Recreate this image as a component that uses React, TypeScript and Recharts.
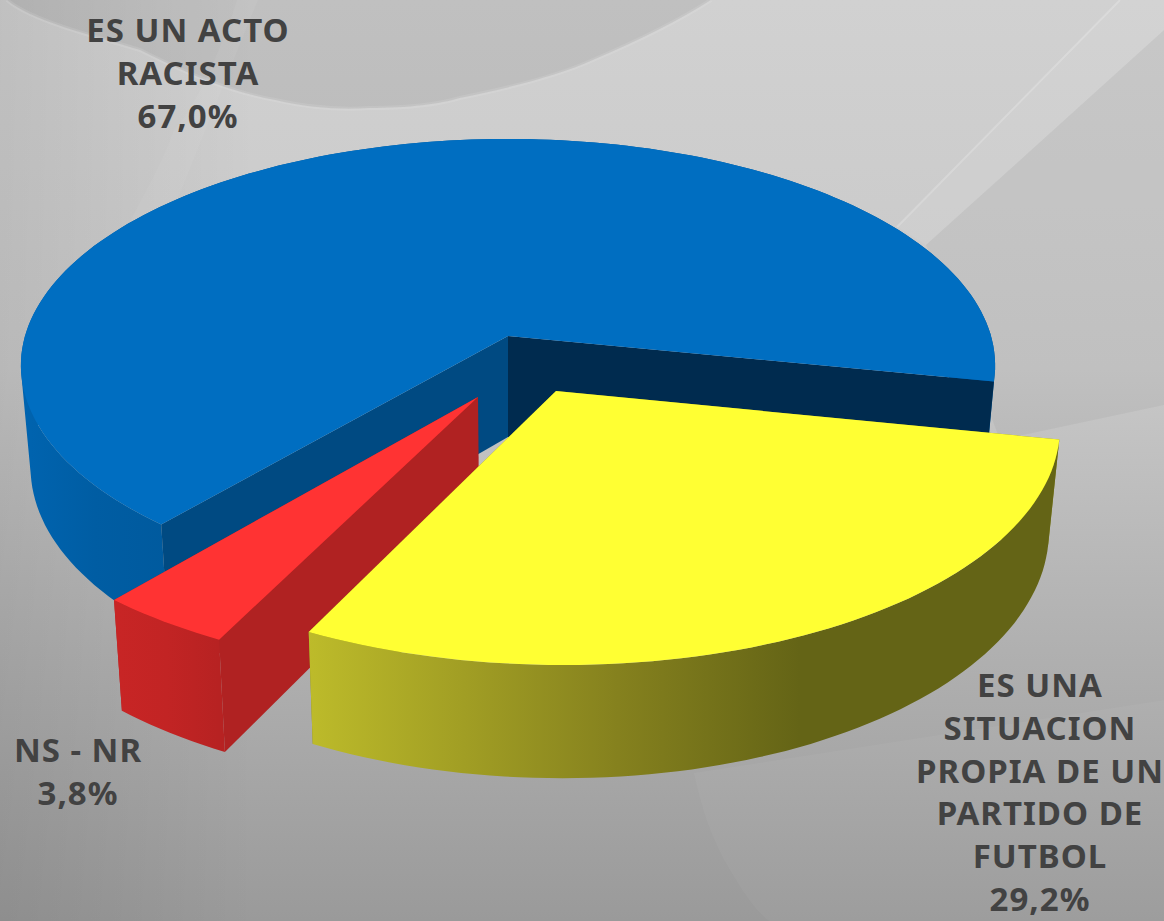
import { Pie, PieChart } from 'recharts'

const CATEGORIES = ['ES UN ACTO RACISTA', 'NS - NR', 'ES UNA SITUACION PROPIA DE UN PARTIDO DE FUTBOL']
const VALUES = [67.0, 3.8, 29.2]
const VALUE_LABELS = ['67,0%', '3,8%', '29,2%']
const LABEL_LINES = [
  ['ES UN ACTO', 'RACISTA'],
  ['NS - NR'],
  ['ES UNA', 'SITUACION', 'PROPIA DE UN', 'PARTIDO DE', 'FUTBOL'],
]

const TOP_COLORS = ['#006ec1', '#ff3333', '#ffff33']
const OUTER_WALL_STOPS = [
  ['#0064b0', '#005da3', '#005a9e'],
  ['#c82525', '#c22424', '#b72222'],
  ['#bdbb2a', '#85811e', '#646416'],
]
const WALL_STOP_OFFSETS = [
  [0, 50, 100],
  [0, 50, 100],
  [0, 63, 100],
]
const CUT_WALL_COLORS = [
  ['#002b4f', '#004a82'],
  ['#b02222', '#b02222'],
  ['#8a8a1e', '#8a8a1e'],
]

// label anchors, centre x and first baseline
const LABEL_X = [188, 78, 1040]
const LABEL_Y = [42, 762, 697]
const LINE_HEIGHT = 42.8

// explode offset of every slice in the plane of the pie
const EXPLODE_U = [0, -0.06, 0.0963]
const EXPLODE_V = [0, -0.2644, -0.2394]

const WIDTH = 1164
const HEIGHT = 921
const TILT = 0.461
const PERSPECTIVE = 0.13
const DEPTH = 101
const BASE_SHRINK = 0.98

const rows = CATEGORIES.map((name, i) => ({ name, value: VALUES[i] }))

type Pt = [number, number]

function toPath(points: Pt[]): string {
  return points.map((p, i) => `${i === 0 ? 'M' : 'L'}${p[0].toFixed(1)},${p[1].toFixed(1)}`).join(' ') + ' Z'
}

// same winding for every quad, otherwise overlapping quads cancel under nonzero fill
function clockwise(points: Pt[]): Pt[] {
  let area = 0
  points.forEach((p, i) => {
    const q = points[(i + 1) % points.length]
    area += p[0] * q[1] - q[0] * p[1]
  })
  return area < 0 ? [...points].reverse() : points
}

function Slice3D(props: any) {
  const { cx, cy, outerRadius, startAngle, endAngle, name } = props
  const index = CATEGORIES.indexOf(name)

  const top = (u: number, v: number): Pt => {
    const w = 1 + PERSPECTIVE * v
    return [cx + (outerRadius * u) / w, cy - (outerRadius * TILT * v) / w]
  }
  const bottom = (u: number, v: number): Pt => {
    const w = 1 + PERSPECTIVE * v
    const p = top(u, v)
    return [cx + (p[0] - cx) * BASE_SHRINK, p[1] + DEPTH / Math.pow(w, 0.65)]
  }

  const ou = EXPLODE_U[index]
  const ov = EXPLODE_V[index]
  const steps = Math.max(8, Math.ceil((endAngle - startAngle) / 1.5))
  const arc: [number, number][] = []
  for (let i = 0; i <= steps; i++) {
    const a = ((startAngle + ((endAngle - startAngle) * i) / steps) * Math.PI) / 180
    arc.push([ou + Math.cos(a), ov + Math.sin(a)])
  }
  const first = arc[0]
  const last = arc[arc.length - 1]

  const topFace = [top(ou, ov), ...arc.map(([u, v]) => top(u, v))]
  // swept quads, so the silhouette keeps the tangent edge between top and base
  const outerWall = arc
    .slice(1)
    .map(([u, v], i) => {
      const [pu, pv] = arc[i]
      return toPath(clockwise([top(pu, pv), top(u, v), bottom(u, v), bottom(pu, pv)]))
    })
    .join(' ')
  const cutStart = [top(ou, ov), top(first[0], first[1]), bottom(first[0], first[1]), bottom(ou, ov)]
  const cutEnd = [top(ou, ov), top(last[0], last[1]), bottom(last[0], last[1]), bottom(ou, ov)]

  const xs = arc.map(([u, v]) => top(u, v)[0])
  const gradientId = `wall-${index}`
  const cuts = (
    <>
      <path d={toPath(cutStart)} fill={CUT_WALL_COLORS[index][0]} />
      <path d={toPath(cutEnd)} fill={CUT_WALL_COLORS[index][1]} />
    </>
  )
  return (
    <g>
      <defs>
        <linearGradient
          id={gradientId}
          gradientUnits="userSpaceOnUse"
          x1={index === 0 ? 20 : Math.min(...xs)}
          x2={index === 0 ? 170 : index === 2 ? 800 : Math.max(...xs)}
          y1={0}
          y2={0}
        >
          {OUTER_WALL_STOPS[index].map((color, i) => (
            <stop key={color} offset={`${WALL_STOP_OFFSETS[index][i]}%`} stopColor={color} />
          ))}
        </linearGradient>
      </defs>
      {index !== 0 && cuts}
      <path d={outerWall} fill={`url(#${gradientId})`} />
      {index === 0 && cuts}
      <path d={toPath(topFace)} fill={TOP_COLORS[index]} />
    </g>
  )
}

function SliceLabel(props: any) {
  const index = CATEGORIES.indexOf(props.name)
  const lines = [...LABEL_LINES[index], VALUE_LABELS[index]]
  return (
    <text
      textAnchor="middle"
      fontFamily="'Noto Sans', sans-serif"
      fontWeight={700}
      fontSize={33}
      letterSpacing={1}
      fill="#424242"
    >
      {lines.map((line, i) => (
        <tspan key={line} x={LABEL_X[index]} y={LABEL_Y[index] + i * LINE_HEIGHT}>
          {line}
        </tspan>
      ))}
    </text>
  )
}

function Backdrop() {
  const swirl = 'M7,0 C30,20 90,35 140,50 C190,75 230,92 275,100 C310,108 340,110 370,108 C410,108 440,104 460,98 C510,88 560,75 593,60 C640,40 680,20 711,0'
  return (
    <svg width={WIDTH} height={HEIGHT} style={{ position: 'absolute', left: 0, top: 0 }}>
      <defs>
        <linearGradient id="bg-base" x1="0" y1="0" x2="0" y2="1">
          <stop offset="0%" stopColor="#d1d1d1" />
          <stop offset="40%" stopColor="#c8c8c8" />
          <stop offset="68%" stopColor="#b2b2b2" />
          <stop offset="100%" stopColor="#9a9a9a" />
        </linearGradient>
        <linearGradient id="bg-left" x1="0" y1="0" x2="1" y2="0">
          <stop offset="0%" stopColor="#000000" stopOpacity={0.08} />
          <stop offset="22%" stopColor="#000000" stopOpacity={0} />
        </linearGradient>
      </defs>
      <rect width={WIDTH} height={HEIGHT} fill="url(#bg-base)" />
      <rect width={WIDTH} height={HEIGHT} fill="url(#bg-left)" />
      <path d={`${swirl} Z`} fill="#000000" opacity={0.08} />
      <path d={swirl} fill="none" stroke="#ffffff" strokeOpacity={0.1} strokeWidth={4} />
      <path d="M237,0 C225,40 195,110 174,130 C160,170 140,200 126,230 L165,230 C190,170 225,80 258,0 Z" fill="#ffffff" opacity={0.05} />
      <path d="M926,245 L1164,30 L1164,405 L1000,440 Z" fill="#000000" opacity={0.04} />
      <path d="M897,227 L1120,0 L1164,0 L1164,30 L926,245 Z" fill="#ffffff" opacity={0.06} />
      <path d="M897,227 L1120,0" fill="none" stroke="#ffffff" strokeOpacity={0.2} strokeWidth={2} />
      <path d="M694,773 C700,800 708,833 730,870 C745,895 755,910 769,921 L1164,921 L1164,700 L694,773 Z" fill="#ffffff" opacity={0.04} />
    </svg>
  )
}

export default function App() {
  return (
    <div style={{ position: 'absolute', left: 0, top: 0, width: WIDTH, height: HEIGHT, overflow: 'hidden' }}>
      <Backdrop />
      <div style={{ position: 'absolute', left: 0, top: 0 }}>
        <PieChart width={WIDTH} height={HEIGHT} margin={{ top: 0, right: 0, bottom: 0, left: 0 }}>
          <Pie
            data={rows}
            dataKey="value"
            nameKey="name"
            cx={508}
            cy={336}
            outerRadius={483}
            startAngle={-11.5}
            endAngle={348.5}
            stroke="none"
            shape={Slice3D}
            label={SliceLabel}
            labelLine={false}
            isAnimationActive={false}
          />
        </PieChart>
      </div>
    </div>
  )
}
